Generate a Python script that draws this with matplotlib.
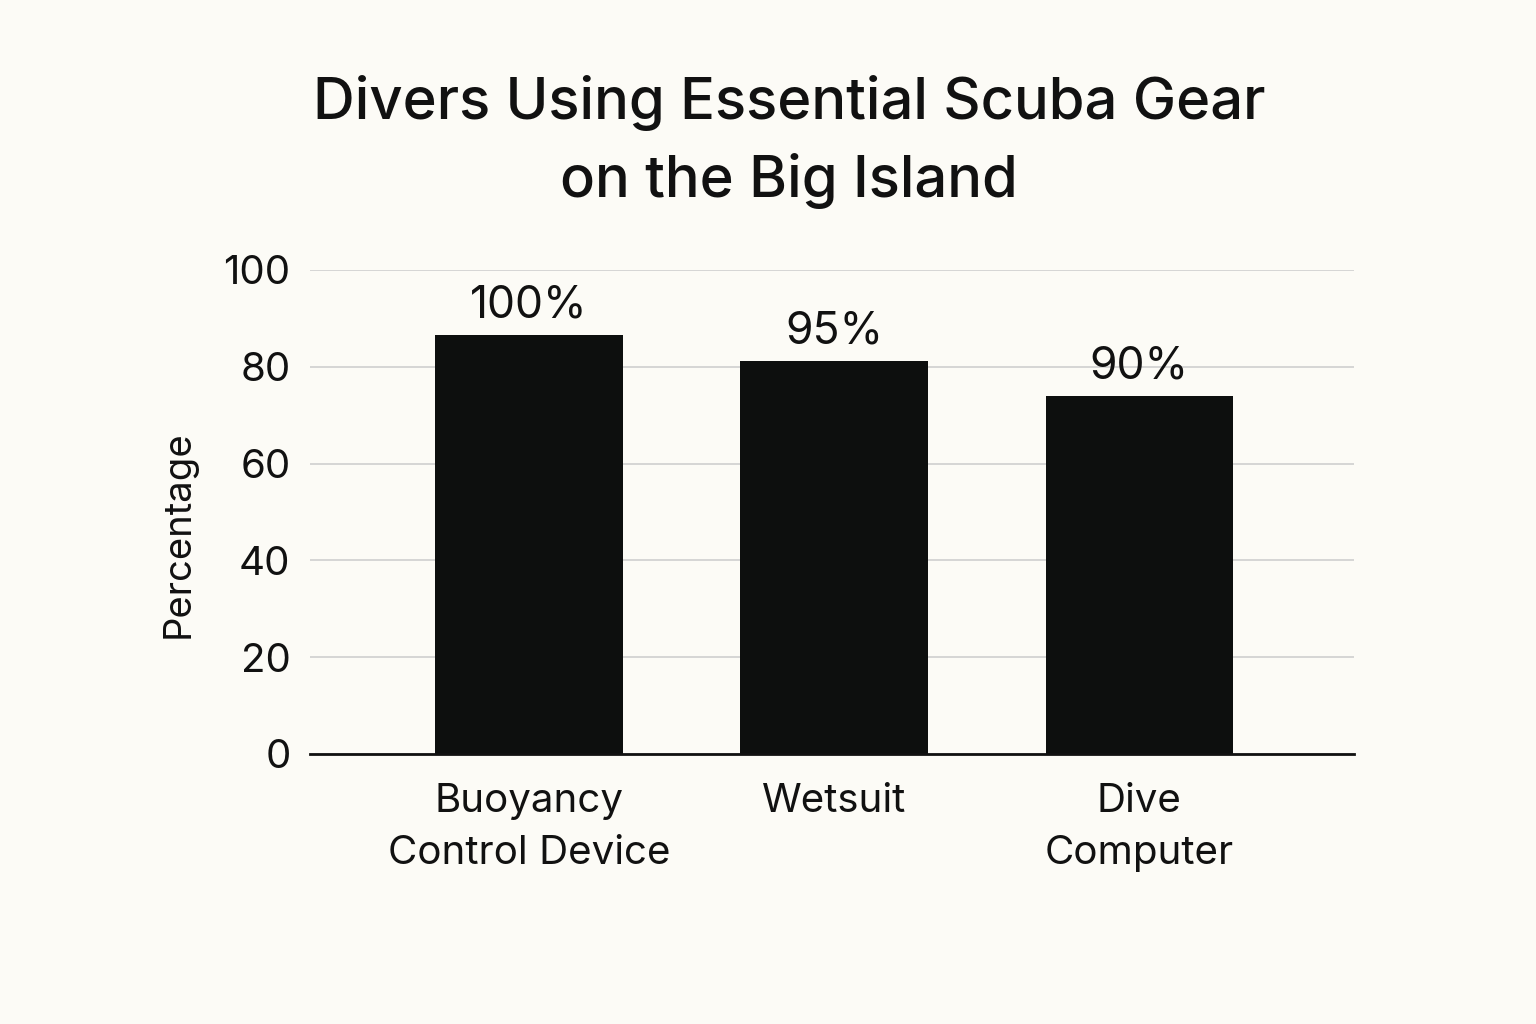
import matplotlib
matplotlib.use("Agg")
import matplotlib.pyplot as plt

categories = ["Buoyancy\nControl Device", "Wetsuit", "Dive\nComputer"]
bar_heights = [86.6, 81.2, 74.0]
bar_labels = ["100%", "95%", "90%"]
yticks = [0, 20, 40, 60, 80, 100]

plt.rcParams['font.family'] = ['Inter', 'DejaVu Sans']
bg = "#fcfbf6"
fig = plt.figure(figsize=(15.36, 10.24), dpi=100, facecolor=bg)
ax = fig.add_axes([310/1536, 1-754/1024, (1354-310)/1536, (754-270)/1024])
ax.set_facecolor(bg)

x = list(range(len(categories)))
bars = ax.bar(x, bar_heights, width=0.615, color="#0d0f0e", zorder=3)
for b, lab in zip(bars, bar_labels):
    ax.annotate(lab, (b.get_x() + b.get_width()/2, b.get_height()),
                xytext=(0, 6), textcoords="offset points",
                ha="center", va="bottom", fontsize=32, color="#111111")

ax.set_xlim(-0.717, 2.703)
ax.set_ylim(0, 100)
ax.set_yticks(yticks)
ax.set_yticklabels([str(v) for v in yticks], fontsize=29, color="#111111")
ax.set_xticks(x)
ax.set_xticklabels(categories, fontsize=29, color="#111111", linespacing=1.5)
ax.tick_params(axis="x", length=0, pad=21)
ax.tick_params(axis="y", length=0, pad=14)
ax.grid(axis="y", color="#cfcfcf", linewidth=1.2, zorder=0)
for s in ["top", "right", "left"]:
    ax.spines[s].set_visible(False)
ax.spines["bottom"].set_linewidth(2)
ax.spines["bottom"].set_color("#111111")
ax.spines["bottom"].set_zorder(4)

ax.set_ylabel("Percentage", fontsize=27.5, color="#111111")
ax.yaxis.set_label_coords((197-310)/(1354-310), (754-534)/(754-270))
fig.text(789/1536, 1-142/1024, "Divers Using Essential Scuba Gear\non the Big Island",
         ha="center", va="center", fontsize=41.7, fontweight="medium",
         color="#111111", linespacing=1.5)

fig.savefig("out.png", dpi=100, facecolor=bg)
